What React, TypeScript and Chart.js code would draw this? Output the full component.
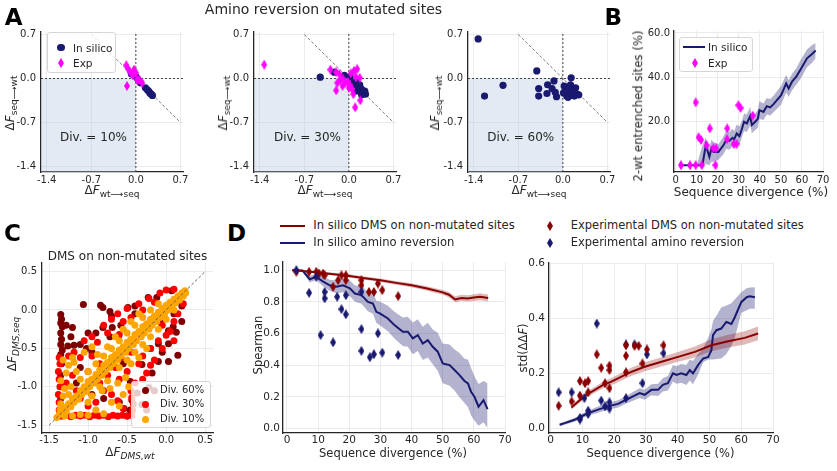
import React, { useEffect, useRef } from "react";
import { Chart, registerables } from "chart.js";

Chart.register(...registerables);

const FONT = "'DejaVu Sans', Verdana, sans-serif";
const INK = "#262626";
const GRID = "#ebebeb";
const NAVY = "#191970";
const MAGENTA = "#ff00ff";
const DRED = "#8b0000";
const C60 = "#7f0000";
const C30 = "#ff0000";
const C10 = "#ffa500";
const NAVY_BAND = "rgba(25,25,112,0.33)";
const RED_BAND = "rgba(139,0,0,0.28)";

type Pt = [number, number];

// ===== Panel A : amino reversion on mutated sites =====
const A_TICKS = [-1.4, -0.7, 0.0, 0.7];
const A_MIN = -1.49;
const A_MAX = 0.74;
const A_DIAG: Pt[] = [[-0.7, 0.7], [0.7, -0.7]];
const A1_SILICO: Pt[] = [[-0.07, 0.07], [0.0, 0.03], [0.03, -0.01], [0.07, -0.07], [0.15, -0.15], [0.18, -0.18], [0.2, -0.2], [0.22, -0.23], [0.24, -0.25], [0.26, -0.27]];
const A1_EXP: Pt[] = [[-0.15, 0.21], [-0.12, 0.15], [-0.09, 0.1], [-0.03, 0.14], [0.0, 0.09], [-0.05, 0.05], [0.02, -0.02], [0.05, -0.02], [0.1, -0.07], [-0.14, -0.12]];
const A2_SILICO: Pt[] = [[-0.45, 0.02], [-0.23, 0.1], [-0.07, 0.05], [0.02, 0.02], [0.07, -0.07], [0.1, -0.1], [0.13, -0.2], [0.15, -0.14], [0.17, -0.1], [0.19, -0.16], [0.21, -0.19], [0.23, -0.23], [0.26, -0.25], [0.12, -0.05], [0.2, -0.26], [0.25, -0.2]];
const A2_EXP: Pt[] = [[-1.33, 0.22], [-0.29, 0.14], [-0.2, 0.1], [-0.15, 0.07], [-0.14, -0.03], [-0.18, -0.07], [-0.2, -0.19], [-0.1, 0.0], [-0.06, -0.07], [-0.02, -0.05], [0.01, -0.1], [0.03, 0.08], [0.08, 0.12], [0.13, 0.15], [0.11, 0.02], [0.17, 0.01], [0.05, -0.17], [0.07, -0.25], [0.18, -0.35], [0.1, -0.46], [0.0, -0.15], [-0.1, -0.12]];
const A3_SILICO: Pt[] = [[-1.33, 0.63], [-1.23, -0.28], [-0.94, -0.11], [-0.41, 0.12], [-0.38, -0.16], [-0.38, -0.28], [-0.24, -0.1], [-0.25, -0.24], [-0.14, -0.04], [-0.17, -0.16], [-0.1, -0.29], [0.13, 0.01], [0.04, -0.17], [0.09, -0.2], [0.14, -0.18], [0.2, -0.15], [0.22, -0.25], [0.06, -0.28], [0.11, -0.25], [0.25, -0.26], [0.01, -0.23], [0.17, -0.22], [0.02, -0.12], [0.08, -0.3], [0.15, -0.27], [-0.12, -0.22], [0.05, -0.22], [0.12, -0.1], [0.18, -0.28]];

// ===== Panel B : 2-wt entrenched sites =====
const B_XTICKS = [0, 10, 20, 30, 40, 50, 60, 70];
const B_YTICKS = [20, 40, 60];
const B_X = [2, 4, 6, 8, 10, 12.7, 14.3, 16, 17, 18, 20.3, 22.7, 24, 25.5, 27, 27.8, 29, 30.3, 31.4, 32.5, 33.8, 35.4, 36.2, 37.8, 39, 39.8, 41.7, 43.3, 44.9, 46.5, 48.1, 50.1, 52.5, 53.7, 55.3, 57.3, 59.2, 62.4, 64.8, 66.5];
const B_Y = [0, 0, 0, 0, 0, 0, 9.1, 3.8, 7.6, 6, 6, 9, 11.5, 11, 12.4, 11.7, 14.4, 13.2, 16.3, 19.7, 18.9, 22.3, 18.2, 19.7, 21, 25, 24.2, 26.8, 26.2, 27.7, 29.5, 31.8, 37.1, 34.8, 37.9, 40.2, 43.2, 48.5, 50.5, 52];
const B_LO = [0, 0, 0, 0, 0, 0, 0.5, 0, 1.5, 1.5, 2.5, 5, 7.5, 7, 8.5, 8, 10, 9.5, 12.5, 15.5, 15, 18, 14.5, 16, 17, 21, 20.5, 23, 22.5, 24, 25.5, 27.5, 33, 31, 34, 36.5, 39, 44.5, 46.5, 48.5];
const B_HI = [0, 0, 0, 0, 0, 9, 12.5, 8, 11.5, 10.5, 9.5, 13, 15.5, 15, 16.5, 15.5, 18.5, 17.5, 20, 23.5, 23, 26.5, 22, 23.5, 25, 29, 28, 30.5, 30, 31.5, 33.5, 36, 41, 38.5, 41.5, 44, 47.5, 52.5, 54.5, 55.5];
const B_EXP: Pt[] = [[2.5, 0], [6.8, 0], [9.5, 0], [12.4, 0], [18.9, 0], [9.5, 28.5], [10.9, 12.7], [12, 11.5], [14.7, 9], [16.2, 16.7], [17.9, 7.6], [19.2, 7.6], [24.5, 16.7], [24.4, 11.8], [27.6, 9.6], [28.9, 9.6], [29.8, 27.2], [30.8, 26], [36.6, 22.5]];

// ===== Panel C : DMS on non-mutated sites =====
const C_TICKS = [-1.5, -1.0, -0.5, 0.0, 0.5];
const C_DIAG: Pt[] = [[-1.5, -1.5], [0.5, 0.5]];
const C_DIV60: Pt[] = [[-1.35, -0.06], [-1.34, -0.12], [-1.35, -0.17], [-1.33, -0.22], [-1.35, -0.3], [-1.34, -0.38], [-1.35, -0.45], [-1.33, -0.52], [-1.35, -0.58], [-1.34, -0.7], [-1.35, -0.85], [-1.34, -1.0], [-1.35, -1.15], [-1.34, -1.3], [-1.35, -1.38],
  [-1.28, -0.2], [-1.2, -0.23], [-1.22, -0.35], [-1.26, -0.47], [-1.18, -0.46], [-1.1, -0.45], [-1.06, 0.07], [-1.02, -0.5], [-0.95, -0.55], [-0.84, 0.06], [-0.81, 0.03], [-0.72, -0.02], [-0.7, -0.08], [-0.81, -0.23], [-0.69, -0.23], [-0.58, -0.2], [-0.72, -0.35], [-0.61, -0.35], [-0.49, 0.03], [-0.4, 0.05], [-0.23, 0.16], [-0.12, 0.16], [0.07, 0.25], [-0.07, -0.16], [0.09, -0.22], [0.13, -0.29], [0.03, -0.27], [-0.1, -0.44], [0.03, -0.44], [0.15, -0.59], [0.03, -0.67], [-0.1, -0.67], [-0.18, -0.82], [-0.31, -0.71], [-0.46, -0.93], [-0.37, -1.08], [-0.22, -1.01], [-0.44, -1.17], [-0.46, -1.3], [-0.54, -1.28], [-0.31, -1.23], [-0.25, -1.3], [-0.15, -1.05], [-0.5, -1.38], [-0.6, -1.2], [-0.9, -0.9], [-0.95, -1.1], [-1.1, -0.75], [-1.15, -0.95], [-0.8, -1.15], [-0.65, -0.6], [-0.55, -0.7], [-0.9, -0.3], [-1.0, -0.3], [0.1, -0.05], [0.2, 0.05], [-0.3, -0.3], [-0.2, -0.5], [-0.05, -0.55], [0.2, -0.15], [-0.4, -0.05]];
const C_DIV30: Pt[] = [[-1.33, -1.38], [-1.28, -1.37], [-1.22, -1.39], [-1.16, -1.37], [-1.1, -1.38], [-1.04, -1.37], [-0.98, -1.39], [-0.92, -1.37], [-0.86, -1.38], [-0.8, -1.37], [-0.74, -1.39], [-0.68, -1.37], [-0.62, -1.38], [-0.56, -1.37], [-0.5, -1.38], [-0.44, -1.37],
  [-0.43, -1.3], [-0.42, -1.22], [-0.44, -1.14], [-0.45, -1.05],
  [-1.37, -1.3], [-1.37, -1.2], [-1.38, -1.1], [-1.36, -1.0], [-1.37, -0.9], [-1.38, -0.8], [-1.36, -0.7], [-1.37, -0.62],
  [-1.25, -0.6], [-1.18, -0.55], [-1.1, -0.62], [-1.05, -0.4], [-0.95, -0.35], [-0.88, -0.42], [-0.8, -0.2], [-0.75, -0.3], [-0.7, -0.12], [-0.62, -0.05], [-0.55, -0.15], [-0.5, 0.02], [-0.45, -0.1], [-0.35, 0.08], [-0.3, 0.0], [-0.22, 0.15], [-0.15, 0.1], [-0.08, 0.22], [0.0, 0.26], [0.1, 0.27], [-0.6, -0.32], [-0.95, -0.6], [-0.85, -0.7], [-1.2, -0.85], [-1.0, -0.8], [-1.28, -0.95], [-1.15, -1.05],
  [-0.3, -0.6], [-0.2, -0.5], [-0.1, -0.4], [0.0, -0.33], [0.1, -0.15], [0.15, -0.05], [0.22, 0.08], [-0.5, -0.8], [-0.6, -0.9], [-0.4, -0.95], [-0.35, -0.7], [-0.25, -0.82], [-0.15, -0.65], [-0.05, -0.5], [0.05, -0.28], [-0.7, -1.1], [-0.62, -1.18], [-0.55, -1.28], [-0.9, -1.2], [-0.8, -1.05], [-1.0, -1.25], [-1.1, -1.15], [-0.45, -0.55], [-0.58, -0.62], [-0.3, -0.9], [-0.2, -0.72], [-0.05, -0.2], [0.1, -0.4], [-0.75, -0.85], [-0.85, -0.95], [-0.65, -0.75]];
const C_DIV10: Pt[] = [[-1.4, -1.4], [-1.37, -1.36], [-1.36, -1.3], [-1.33, -1.34], [-1.3, -1.27], [-1.28, -1.32], [-1.25, -1.22], [-1.22, -1.26], [-1.2, -1.15], [-1.18, -1.2], [-1.15, -1.12], [-1.12, -1.16], [-1.1, -1.05], [-1.08, -1.1], [-1.05, -1.0], [-1.02, -1.06], [-1.0, -0.93], [-0.98, -1.0], [-0.95, -0.9], [-0.92, -0.95], [-0.9, -0.84], [-0.88, -0.9], [-0.85, -0.78], [-0.82, -0.85], [-0.8, -0.72], [-0.78, -0.8], [-0.75, -0.68], [-0.72, -0.75], [-0.7, -0.62], [-0.68, -0.7], [-0.65, -0.58], [-0.62, -0.65], [-0.6, -0.52], [-0.58, -0.6], [-0.55, -0.48], [-0.52, -0.55], [-0.5, -0.42], [-0.48, -0.5], [-0.45, -0.38], [-0.42, -0.45], [-0.4, -0.32], [-0.38, -0.4], [-0.35, -0.28], [-0.32, -0.35], [-0.3, -0.22], [-0.28, -0.3], [-0.25, -0.18], [-0.22, -0.25], [-0.2, -0.12], [-0.18, -0.2], [-0.15, -0.08], [-0.12, -0.15], [-0.1, -0.03], [-0.08, -0.1], [-0.05, 0.02], [-0.02, -0.05], [0.0, 0.06], [0.02, 0.0], [0.05, 0.1], [0.07, 0.04], [0.1, 0.14], [0.12, 0.09], [0.15, 0.18], [0.17, 0.13], [0.2, 0.22], [0.22, 0.18], [0.24, 0.25], [0.25, 0.22],
  [-1.0, -0.8], [-0.9, -0.7], [-0.8, -0.6], [-0.7, -0.5], [-0.6, -0.4], [-0.5, -0.3], [-0.4, -0.2], [-0.3, -0.1], [-0.2, 0.0], [-0.1, 0.08], [-0.75, -0.48], [-0.65, -0.35], [-0.55, -0.25], [-0.45, -0.15], [-0.35, -0.05], [-0.6, -0.75], [-0.5, -0.65], [-0.4, -0.55], [-0.3, -0.45], [-0.2, -0.35], [-0.1, -0.25], [0.0, -0.12], [0.1, 0.0], [-0.85, -1.0], [-0.75, -0.92],
  [-1.32, -0.65], [-1.25, -0.72], [-1.2, -0.62], [-1.28, -0.82], [-1.35, -0.92], [-1.3, -1.02], [-1.22, -1.0], [-1.15, -0.8], [-1.1, -0.9], [-1.05, -0.55], [-0.95, -0.48], [-1.18, -0.68], [-1.32, -1.12], [-1.25, -1.1], [-1.35, -1.22], [-0.88, -0.58],
  [-0.82, -1.05], [-0.72, -1.02], [-0.62, -0.95], [-0.52, -0.88], [-0.55, -1.1], [-0.6, -1.25], [-0.9, -1.3], [-0.8, -1.35], [-1.0, -1.37], [-1.1, -1.36], [-1.2, -1.38], [-1.3, -1.38], [-0.7, -1.2], [-0.45, -0.7], [-0.35, -0.62], [-0.25, -0.5], [-0.48, -1.0], [-1.0, -1.2], [-0.95, -1.12]];

// ===== Panel D : Spearman and std(ddF) vs divergence =====
const D_XTICKS = [0, 10, 20, 30, 40, 50, 60, 70];
const D1_YTICKS = [0.0, 0.2, 0.4, 0.6, 0.8, 1.0];
const D2_YTICKS = [0.0, 0.2, 0.4, 0.6];
const D1_RED_X = [1.7, 5, 10, 15, 20, 25, 30, 35, 40, 45, 50, 52, 54, 56, 58, 60, 62, 64.6];
const D1_RED_Y = [1.0, 0.995, 0.985, 0.975, 0.964, 0.95, 0.937, 0.92, 0.905, 0.884, 0.86, 0.845, 0.815, 0.825, 0.822, 0.827, 0.832, 0.825];
const D1_RED_LO = [0.998, 0.99, 0.978, 0.966, 0.954, 0.94, 0.926, 0.908, 0.892, 0.87, 0.845, 0.828, 0.797, 0.805, 0.802, 0.806, 0.81, 0.803];
const D1_RED_HI = [1.0, 0.999, 0.992, 0.984, 0.974, 0.96, 0.948, 0.932, 0.918, 0.898, 0.875, 0.862, 0.835, 0.845, 0.842, 0.848, 0.854, 0.847];
const D1_BLUE_X = [1.7, 5, 7.3, 9.4, 11.5, 13.7, 15.9, 18, 20.2, 21.8, 23.9, 26, 27.6, 28.7, 29.8, 32.4, 34.5, 37.2, 38.8, 40.4, 42, 43.6, 45.2, 46.8, 48.4, 50, 52.2, 53.8, 55.4, 57, 58.1, 59.1, 60.2, 61.5, 63.1, 64.4];
const D1_BLUE_Y = [1.0, 0.998, 0.943, 0.958, 0.93, 0.905, 0.895, 0.905, 0.885, 0.853, 0.843, 0.8, 0.79, 0.737, 0.727, 0.695, 0.653, 0.611, 0.611, 0.569, 0.59, 0.537, 0.558, 0.516, 0.485, 0.411, 0.4, 0.369, 0.337, 0.3, 0.285, 0.232, 0.2, 0.137, 0.179, 0.122];
const D1_BLUE_LO = [0.997, 0.993, 0.923, 0.938, 0.9, 0.87, 0.855, 0.86, 0.835, 0.8, 0.788, 0.74, 0.725, 0.667, 0.652, 0.615, 0.568, 0.521, 0.516, 0.469, 0.49, 0.432, 0.448, 0.406, 0.365, 0.286, 0.27, 0.239, 0.197, 0.16, 0.135, 0.082, 0.05, 0.017, 0.039, 0.002];
const D1_BLUE_HI = [1.0, 1.0, 0.963, 0.978, 0.96, 0.94, 0.935, 0.95, 0.935, 0.903, 0.898, 0.86, 0.855, 0.807, 0.802, 0.775, 0.738, 0.701, 0.706, 0.669, 0.69, 0.642, 0.668, 0.626, 0.605, 0.536, 0.53, 0.499, 0.477, 0.44, 0.435, 0.382, 0.33, 0.28, 0.3, 0.285];
const D1_EXP_RED: Pt[] = [[3, 0.99], [7.1, 0.99], [9.4, 0.99], [10.3, 0.979], [11.6, 0.979], [12.1, 0.968], [14.8, 0.895], [16.4, 0.937], [17.5, 0.968], [18.9, 0.968], [18.9, 0.937], [23.9, 0.937], [23.9, 0.905], [26.3, 0.863], [27.9, 0.863], [29.2, 0.916], [30.6, 0.874], [35.7, 0.836]];
const D1_EXP_BLUE: Pt[] = [[3, 1.0], [7.1, 0.857], [9.4, 0.958], [12.1, 0.863], [12.1, 0.822], [10.8, 0.59], [14.8, 0.544], [16.1, 0.832], [17.5, 0.754], [18.9, 0.721], [18.9, 0.842], [23.9, 0.863], [23.9, 0.628], [23.9, 0.49], [26.6, 0.45], [27.9, 0.469], [29.2, 0.601], [30.6, 0.479], [35.7, 0.464]];
const D2_RED_X = [6.5, 8.6, 11.2, 13.9, 16.5, 19.1, 22.3, 25.5, 29.6, 34.9, 40.1, 45.4, 50.6, 55.9, 61.1, 65.3];
const D2_RED_Y = [0.076, 0.097, 0.122, 0.14, 0.158, 0.17, 0.188, 0.206, 0.224, 0.242, 0.26, 0.278, 0.302, 0.317, 0.329, 0.345];
const D2_RED_LO = [0.068, 0.088, 0.112, 0.129, 0.146, 0.157, 0.174, 0.191, 0.208, 0.225, 0.242, 0.258, 0.28, 0.294, 0.305, 0.32];
const D2_RED_HI = [0.084, 0.106, 0.132, 0.151, 0.17, 0.183, 0.202, 0.221, 0.24, 0.259, 0.278, 0.298, 0.324, 0.34, 0.353, 0.37];
const D2_BLUE_X = [2.8, 4.4, 7.5, 9.6, 11.7, 14.9, 18, 21.2, 23.8, 25.9, 28, 29.6, 31.7, 33.8, 35.3, 36.9, 38.5, 39.6, 41.1, 42.7, 43.8, 44.8, 46.4, 48, 49.6, 50.6, 51.1, 52.2, 53.7, 55.3, 56.9, 58, 60, 61.7, 62.7, 64.3];
const D2_BLUE_Y = [0.013, 0.019, 0.031, 0.043, 0.055, 0.068, 0.08, 0.089, 0.104, 0.116, 0.128, 0.122, 0.14, 0.14, 0.158, 0.164, 0.2, 0.194, 0.2, 0.194, 0.212, 0.2, 0.23, 0.254, 0.26, 0.284, 0.339, 0.357, 0.363, 0.387, 0.38, 0.405, 0.459, 0.477, 0.48, 0.477];
const D2_BLUE_LO = [0.008, 0.013, 0.024, 0.035, 0.046, 0.057, 0.068, 0.076, 0.09, 0.1, 0.11, 0.104, 0.12, 0.118, 0.134, 0.138, 0.17, 0.162, 0.166, 0.158, 0.174, 0.16, 0.195, 0.24, 0.25, 0.25, 0.25, 0.252, 0.254, 0.27, 0.3, 0.33, 0.42, 0.43, 0.435, 0.435];
const D2_BLUE_HI = [0.018, 0.025, 0.038, 0.051, 0.064, 0.079, 0.092, 0.102, 0.118, 0.132, 0.146, 0.14, 0.16, 0.162, 0.182, 0.19, 0.23, 0.226, 0.234, 0.23, 0.25, 0.245, 0.27, 0.29, 0.33, 0.36, 0.39, 0.41, 0.44, 0.447, 0.455, 0.47, 0.495, 0.51, 0.512, 0.513];
const D2_EXP_RED: Pt[] = [[2.5, 0.082], [6.6, 0.098], [9.2, 0.172], [9.2, 0.119], [10.8, 0.164], [11.8, 0.172], [11.8, 0.131], [14.5, 0.269], [15.9, 0.22], [17.1, 0.164], [18.5, 0.228], [18.5, 0.212], [18.5, 0.146], [23.7, 0.302], [23.7, 0.264], [23.7, 0.204], [26.4, 0.3], [27.7, 0.3], [28.9, 0.236], [30.3, 0.287], [35.5, 0.302]];
const D2_EXP_BLUE: Pt[] = [[2.5, 0.131], [6.6, 0.131], [9.2, 0.038], [9.2, 0.032], [10.6, 0.11], [11.8, 0.064], [11.8, 0.052], [14.5, 0.381], [15.9, 0.101], [17.1, 0.08], [18.5, 0.095], [18.5, 0.072], [23.7, 0.11], [23.7, 0.305], [26.4, 0.305], [28.9, 0.164], [30.3, 0.269], [35.5, 0.273]];

// ===== helpers =====
const toXY = (arr: Pt[]) => arr.map(([x, y]) => ({ x, y }));
const zipXY = (xs: number[], ys: number[]) => xs.map((x, i) => ({ x, y: ys[i] }));

function diamond(color: string, w: number, h: number) {
  const c = document.createElement("canvas");
  c.width = w;
  c.height = h;
  const g = c.getContext("2d")!;
  g.fillStyle = color;
  g.beginPath();
  g.moveTo(w / 2, 0);
  g.lineTo(w, h / 2);
  g.lineTo(w / 2, h);
  g.lineTo(0, h / 2);
  g.closePath();
  g.fill();
  return c;
}

function refLine(pts: Pt[], color: string, dash: number[], order: number, width = 1) {
  return { type: "line", data: toXY(pts), borderColor: color, borderWidth: width, borderDash: dash, pointRadius: 0, fill: false, order, tension: 0 };
}
function lineDs(xs: number[], ys: number[], color: string, order: number) {
  return { type: "line", data: zipXY(xs, ys), borderColor: color, borderWidth: 2, pointRadius: 0, fill: false, order, tension: 0 };
}
function bandDs(xs: number[], lo: number[], hi: number[], color: string, order: number) {
  return [
    { type: "line", data: zipXY(xs, lo), borderColor: "transparent", borderWidth: 0, pointRadius: 0, fill: false, order, tension: 0 },
    { type: "line", data: zipXY(xs, hi), borderColor: "transparent", borderWidth: 0, pointRadius: 0, fill: "-1", backgroundColor: color, order, tension: 0 },
  ];
}
function dots(pts: Pt[], color: string, r: number, order: number) {
  return { type: "scatter", data: toXY(pts), pointRadius: r, pointBackgroundColor: color, pointBorderWidth: 0, order };
}
function diamonds(pts: Pt[], color: string, order: number, w = 6, h = 10) {
  return { type: "scatter", data: toXY(pts), pointStyle: diamond(color, w, h), pointRadius: 4, order };
}

const shadePlugin = {
  id: "shadeNeg",
  beforeDatasetsDraw(chart: any) {
    const { ctx, scales } = chart;
    const x = scales.x, y = scales.y;
    const x0 = x.getPixelForValue(x.min), x1 = x.getPixelForValue(0);
    const y0 = y.getPixelForValue(0), y1 = y.getPixelForValue(y.min);
    ctx.save();
    ctx.fillStyle = "rgba(176,196,222,0.35)";
    ctx.fillRect(x0, y0, x1 - x0, y1 - y0);
    ctx.restore();
  },
};

function axis(min: number, max: number, ticks: number[], dec: number, size: number, pad: number, isX: boolean, fixed: number) {
  return {
    type: "linear",
    min,
    max,
    afterBuildTicks: (s: any) => { s.ticks = ticks.map((v) => ({ value: v })); },
    afterFit: (s: any) => { if (isX) s.height = fixed; else s.width = fixed; },
    ticks: { callback: (v: any) => Number(v).toFixed(dec), font: { family: FONT, size }, color: INK, padding: pad, autoSkip: false, maxRotation: 0 },
    grid: { color: GRID, lineWidth: 1, drawTicks: false },
    border: { display: true, color: INK, width: 1.3 },
  };
}

type Spec = {
  plot: [number, number, number, number];
  W: number; H: number;
  xr: [number, number]; yr: [number, number];
  xt: number[]; yt: number[]; xd: number; yd: number;
  size: number; xpad: number; ypad: number;
  ds: () => any[];
  plugins?: any[];
};

const PT = 10, PR = 14;

function ChartPanel({ spec }: { spec: Spec }) {
  const ref = useRef<HTMLCanvasElement>(null);
  const [L, T, R, B] = spec.plot;
  const left = L - spec.W, top = T - PT;
  const width = R - L + spec.W + PR, height = B - T + PT + spec.H;
  useEffect(() => {
    const chart = new Chart(ref.current as HTMLCanvasElement, {
      type: "scatter",
      data: { datasets: spec.ds() },
      options: {
        responsive: false,
        animation: false,
        events: [],
        layout: { padding: { top: PT, right: PR, left: 0, bottom: 0 } },
        plugins: { legend: { display: false }, tooltip: { enabled: false } },
        scales: {
          x: axis(spec.xr[0], spec.xr[1], spec.xt, spec.xd, spec.size, spec.xpad, true, spec.H),
          y: axis(spec.yr[0], spec.yr[1], spec.yt, spec.yd, spec.size, spec.ypad, false, spec.W),
        },
      } as any,
      plugins: spec.plugins || [],
    } as any);
    return () => chart.destroy();
  }, []);
  return <canvas ref={ref} width={width} height={height} style={{ position: "absolute", left, top, width, height }} />;
}

function specA(plot: [number, number, number, number], silico: Pt[], exp: Pt[] | null): Spec {
  return {
    plot, W: 32, H: 20, xr: [A_MIN, A_MAX], yr: [A_MIN, A_MAX], xt: A_TICKS, yt: A_TICKS, xd: 1, yd: 1, size: 10, xpad: 2, ypad: 5,
    plugins: [shadePlugin],
    ds: () => {
      const out: any[] = [];
      if (exp) out.push(diamonds(exp, MAGENTA, 1, 6, 10));
      out.push(dots(silico, NAVY, 3.6, 2));
      out.push(refLine(A_DIAG, "#6b6b6b", [3, 2], 3, 0.9));
      out.push(refLine([[0, A_MIN], [0, A_MAX]], "#333333", [2, 2], 4, 0.9));
      out.push(refLine([[A_MIN, 0], [A_MAX, 0]], "#333333", [2, 2], 5, 0.9));
      return out;
    },
  };
}

const SPEC_A1 = specA([41, 31, 183, 172], A1_SILICO, A1_EXP);
const SPEC_A2 = specA([254, 31, 396, 172], A2_SILICO, A2_EXP);
const SPEC_A3 = specA([468, 31, 610, 172], A3_SILICO, null);

const SPEC_B: Spec = {
  plot: [674, 31, 823, 172], W: 30, H: 20, xr: [-0.8, 70], yr: [-3.1, 60.9], xt: B_XTICKS, yt: B_YTICKS, xd: 0, yd: 1, size: 10, xpad: 2, ypad: 4,
  ds: () => [
    diamonds(B_EXP, MAGENTA, 0, 6, 10),
    lineDs(B_X, B_Y, NAVY, 1),
    ...bandDs(B_X, B_LO, B_HI, NAVY_BAND, 2),
  ],
};

const SPEC_C: Spec = {
  plot: [42, 262, 213, 433], W: 32, H: 20, xr: [-1.59, 0.6], yr: [-1.6, 0.61], xt: C_TICKS, yt: C_TICKS, xd: 1, yd: 1, size: 10, xpad: 1, ypad: 5,
  ds: () => [
    refLine(C_DIAG, "#555555", [3, 2], 0, 0.9),
    dots(C_DIV10, C10, 3.5, 1),
    dots(C_DIV30, C30, 3.5, 2),
    dots(C_DIV60, C60, 3.5, 3),
  ],
};

const SPEC_D1: Spec = {
  plot: [283, 262, 505, 433], W: 28, H: 20, xr: [-1.28, 70], yr: [-0.029, 1.052], xt: D_XTICKS, yt: D1_YTICKS, xd: 0, yd: 1, size: 10.5, xpad: 1, ypad: 3,
  ds: () => [
    diamonds(D1_EXP_BLUE, NAVY, 0, 6, 10),
    diamonds(D1_EXP_RED, DRED, 1, 6, 10),
    lineDs(D1_RED_X, D1_RED_Y, DRED, 2),
    lineDs(D1_BLUE_X, D1_BLUE_Y, NAVY, 3),
    ...bandDs(D1_RED_X, D1_RED_LO, D1_RED_HI, RED_BAND, 4),
    ...bandDs(D1_BLUE_X, D1_BLUE_LO, D1_BLUE_HI, NAVY_BAND, 5),
  ],
};

const SPEC_D2: Spec = {
  plot: [549, 262, 773, 433], W: 28, H: 20, xr: [-0.54, 70], yr: [-0.017, 0.604], xt: D_XTICKS, yt: D2_YTICKS, xd: 0, yd: 1, size: 10.5, xpad: 1, ypad: 4,
  ds: () => [
    diamonds(D2_EXP_RED, DRED, 0, 6, 10),
    diamonds(D2_EXP_BLUE, NAVY, 1, 6, 10),
    lineDs(D2_RED_X, D2_RED_Y, DRED, 2),
    lineDs(D2_BLUE_X, D2_BLUE_Y, NAVY, 3),
    ...bandDs(D2_RED_X, D2_RED_LO, D2_RED_HI, RED_BAND, 4),
    ...bandDs(D2_BLUE_X, D2_BLUE_LO, D2_BLUE_HI, NAVY_BAND, 5),
  ],
};

// ===== HTML overlay bits =====
function Txt({ x, y, size, children, bold, rot, left }: any) {
  const tf = (left ? "translate(0,-50%)" : "translate(-50%,-50%)") + (rot ? " rotate(-90deg)" : "");
  return (
    <div style={{ position: "absolute", left: x, top: y, transform: tf, fontFamily: FONT, fontSize: size, fontWeight: bold ? "bold" : "normal", color: bold ? "#000" : INK, whiteSpace: "nowrap", lineHeight: 1 }}>
      {children}
    </div>
  );
}
const SUB: any = { fontSize: "0.75em", position: "relative", top: "0.3em" };

function DiamondIcon({ x, y, color, w = 6, h = 10 }: any) {
  return (
    <svg style={{ position: "absolute", left: x - w / 2, top: y - h / 2 }} width={w} height={h}>
      <polygon points={`${w / 2},0 ${w},${h / 2} ${w / 2},${h} 0,${h / 2}`} fill={color} />
    </svg>
  );
}
function DotIcon({ x, y, color, r = 3.6 }: any) {
  return <div style={{ position: "absolute", left: x - r, top: y - r, width: 2 * r, height: 2 * r, borderRadius: "50%", background: color }} />;
}
function SegIcon({ x1, x2, y, color, w = 2 }: any) {
  return <div style={{ position: "absolute", left: x1, top: y - w / 2, width: x2 - x1, height: w, background: color }} />;
}
function LegendBox({ x, y, w, h }: any) {
  return <div style={{ position: "absolute", left: x, top: y, width: w, height: h, background: "rgba(255,255,255,0.8)", border: "1px solid #d6d6d6", borderRadius: 3, boxSizing: "border-box" }} />;
}

const dF = (sub: string) => (<>Δ<i>F</i><span style={SUB}>{sub}</span></>);
const dFi = (sub: string) => (<>Δ<i>F<span style={SUB}>{sub}</span></i></>);

export default function App() {
  return (
    <div style={{ position: "fixed", left: 0, top: 0, width: 837, height: 471, background: "#fff", overflow: "hidden" }}>
      <ChartPanel spec={SPEC_A1} />
      <ChartPanel spec={SPEC_A2} />
      <ChartPanel spec={SPEC_A3} />
      <ChartPanel spec={SPEC_B} />
      <ChartPanel spec={SPEC_C} />
      <ChartPanel spec={SPEC_D1} />
      <ChartPanel spec={SPEC_D2} />

      {/* panel letters and titles */}
      <Txt x={13.7} y={16.7} size={23} bold>A</Txt>
      <Txt x={613.3} y={16.5} size={23} bold>B</Txt>
      <Txt x={12.5} y={232.5} size={23} bold>C</Txt>
      <Txt x={236.5} y={232.5} size={23} bold>D</Txt>
      <Txt x={323.5} y={9} size={14}>Amino reversion on mutated sites</Txt>

      {/* panel A axis titles and texts */}
      <Txt x={112} y={190} size={12}>{dF("wt⟶seq")}</Txt>
      <Txt x={325} y={190} size={12}>{dF("wt⟶seq")}</Txt>
      <Txt x={539} y={190} size={12}>{dF("wt⟶seq")}</Txt>
      <Txt x={10} y={103} size={12} rot>{dF("seq⟶wt")}</Txt>
      <Txt x={223} y={103} size={12} rot>{dF("seq⟶wt")}</Txt>
      <Txt x={435} y={103} size={12} rot>{dF("seq⟶wt")}</Txt>
      <Txt x={60} y={136.7} size={12} left>Div. = 10%</Txt>
      <Txt x={274} y={136.7} size={12} left>Div. = 30%</Txt>
      <Txt x={487.3} y={136.7} size={12} left>Div. = 60%</Txt>

      {/* A1 legend */}
      <LegendBox x={47} y={31.5} w={69} h={41} />
      <DotIcon x={61} y={47.7} color={NAVY} />
      <Txt x={73} y={47.7} size={10.5} left>In silico</Txt>
      <DiamondIcon x={61} y={62.7} color={MAGENTA} />
      <Txt x={73} y={62.7} size={10.5} left>Exp</Txt>

      {/* panel B */}
      <Txt x={639} y={106} size={11.7} rot>2-wt entrenched sites (%)</Txt>
      <Txt x={751} y={192} size={12}>Sequence divergence (%)</Txt>
      <LegendBox x={679} y={36.5} w={74} h={35} />
      <SegIcon x1={683} x2={705} y={47.3} color={NAVY} />
      <Txt x={708} y={47.3} size={10.5} left>In silico</Txt>
      <DiamondIcon x={695} y={62.7} color={MAGENTA} />
      <Txt x={708} y={62.7} size={10.5} left>Exp</Txt>

      {/* panel C */}
      <Txt x={127.5} y={256} size={12}>DMS on non-mutated sites</Txt>
      <Txt x={130} y={452} size={12}>{dFi("DMS,wt")}</Txt>
      <Txt x={11.5} y={344} size={12} rot>{dFi("DMS,seq")}</Txt>
      <LegendBox x={131} y={381} w={80} h={47} />
      <DotIcon x={145} y={390} color={C60} r={3.5} />
      <Txt x={160} y={390} size={10} left>Div. 60%</Txt>
      <DotIcon x={145} y={404} color={C30} r={3.5} />
      <Txt x={160} y={404} size={10} left>Div. 30%</Txt>
      <DotIcon x={145} y={419} color={C10} r={3.5} />
      <Txt x={160} y={419} size={10} left>Div. 10%</Txt>

      {/* panel D */}
      <Txt x={393} y={453.5} size={11.5}>Sequence divergence (%)</Txt>
      <Txt x={660.5} y={453.5} size={11.5}>Sequence divergence (%)</Txt>
      <Txt x={258.5} y={345} size={11.5} rot>Spearman</Txt>
      <Txt x={524} y={347.5} size={11.5} rot>std(ΔΔ<i>F</i>)</Txt>
      <SegIcon x1={280} x2={305} y={225.7} color={DRED} />
      <Txt x={313.3} y={225.7} size={11.6} left>In silico DMS on non-mutated sites</Txt>
      <SegIcon x1={280} x2={305} y={242.7} color={NAVY} />
      <Txt x={313.3} y={242.7} size={11.6} left>In silico amino reversion</Txt>
      <DiamondIcon x={550} y={226} color={DRED} />
      <Txt x={570.7} y={226} size={11.5} left>Experimental DMS on non-mutated sites</Txt>
      <DiamondIcon x={550} y={242.7} color={NAVY} />
      <Txt x={570.7} y={242.7} size={11.5} left>Experimental amino reversion</Txt>
    </div>
  );
}
